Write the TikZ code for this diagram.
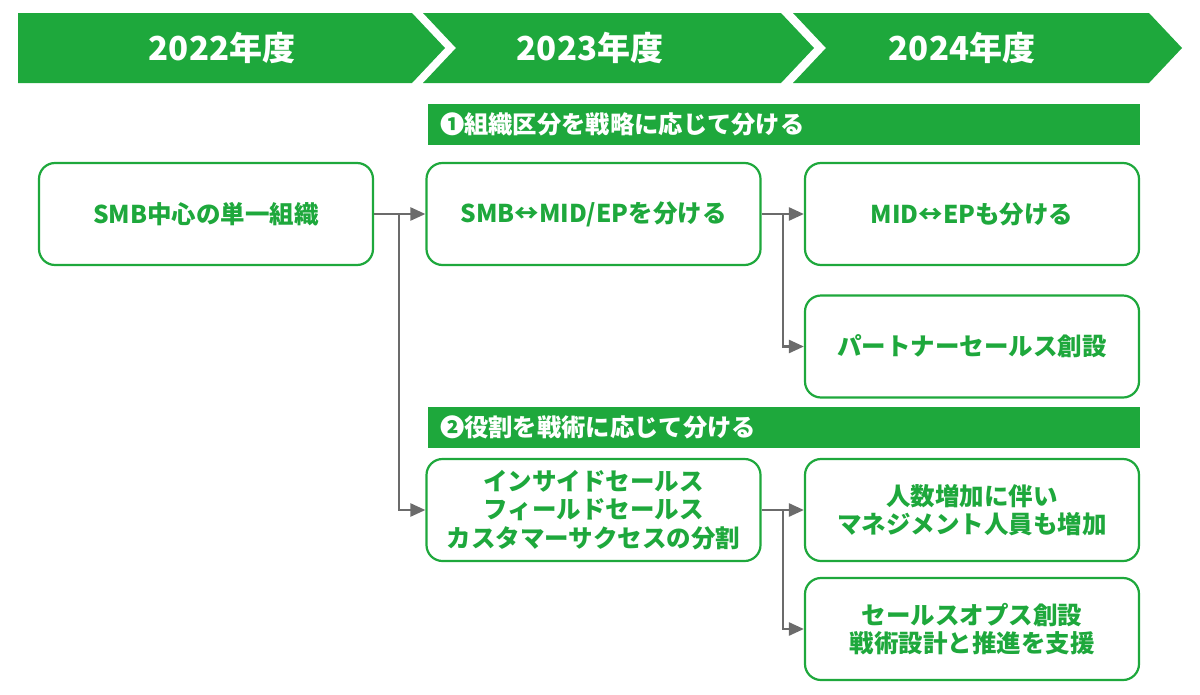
\documentclass[tikz,border=0pt]{standalone}
\usepackage{fontspec}
\setmainfont{Noto Sans CJK JP}
\usetikzlibrary{arrows.meta}
\definecolor{sgreen}{RGB}{30,168,60}
\definecolor{sgray}{RGB}{107,107,107}
\tikzset{
  box/.style={draw=sgreen, line width=2.2pt, rounded corners=16pt, fill=white,
    minimum width=334pt, minimum height=102pt, inner sep=0pt,
    text=sgreen, align=center, font=\bfseries\fontsize{24.5}{28.5}\selectfont},
  band/.style={fill=sgreen, text width=688pt, inner xsep=12pt, minimum height=41pt,
    inner ysep=0pt, align=left, text=white, font=\bfseries\fontsize{24.3}{28}\selectfont},
  arr/.style={draw=sgray, line width=2.5pt, -{Triangle[length=15pt,width=13pt]}},
  year/.style={text=white, font=\bfseries\fontsize{33}{38}\selectfont}
}
\begin{document}
\begin{tikzpicture}[x=1pt,y=-1pt]
	    \useasboundingbox (0,0) rectangle (1200,694);
	    % year header
	    \fill[sgreen] (18,13) -- (412,13) -- (445,48) -- (412,83) -- (18,83) -- cycle;
	    \fill[sgreen] (423,13) -- (781,13) -- (814,48) -- (781,83) -- (423,83) -- (456,48) -- cycle;
	    \fill[sgreen] (793,13) -- (1149,13) -- (1182,48) -- (1149,83) -- (793,83) -- (826,48) -- cycle;
	    \node[year] (y22) at (222,48) {2022年度};
	    \node[year] (y23) at (590,48) {2023年度};
	    \node[year] (y24) at (962,48) {2024年度};

	    \node[band] (sec1) at (784,124.5) {❶組織区分を戦略に応じて分ける};
	    \node[band] (sec2) at (784,427.5) {❷役割を戦術に応じて分ける};

	    \node[box] (single) at (206,214) {SMB中心の単一組織};
	    \node[box] (split) at (593.5,214) {SMB↔MID/EPを分ける};
	    \node[box] (midep) at (972,214) {MID↔EPも分ける};
	    \node[box] (partner) at (972,346.5) {パートナーセールス創設};
	    \node[box] (roles) at (593.5,510) {インサイドセールス\\フィールドセールス\\カスタマーサクセスの分割};
	    \node[box] (mgmt) at (972,510) {人数増加に伴い\\マネジメント人員も増加};
	    \node[box] (ops) at (972,629) {セールスオプス創設\\戦術設計と推進を支援};

	    \coordinate (j1) at (399,214);
	    \coordinate (j2) at (783,214);
	    \coordinate (j3) at (783,510);

	    \draw[arr] (single) -- (split);
	    \draw[arr] (j1) |- (roles.west);
	    \draw[arr] (split) -- (midep);
	    \draw[arr] (j2) |- (partner.west);
	    \draw[arr] (roles) -- (mgmt);
	    \draw[arr] (j3) |- (ops.west);
	\end{tikzpicture}
\end{document}
